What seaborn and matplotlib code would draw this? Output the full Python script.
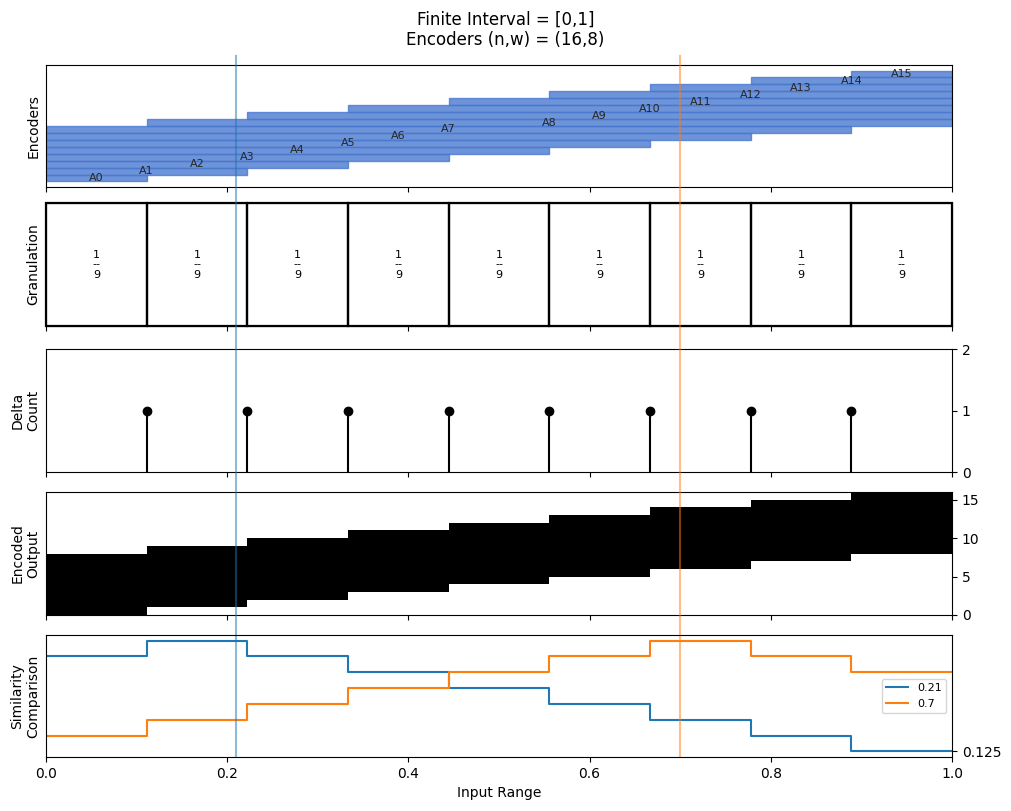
import numpy as np
import pandas as pd
import seaborn as sns
import matplotlib
matplotlib.use('Agg')
import matplotlib.pyplot as plt

# --- data ---
enc_names = ['A%d' % i for i in range(16)]
enc_start = [0, 0, 0, 0, 0, 0, 0, 0, 1/9, 2/9, 3/9, 4/9, 5/9, 6/9, 7/9, 8/9]
enc_end = [1/9, 2/9, 3/9, 4/9, 5/9, 6/9, 7/9, 8/9, 1, 1, 1, 1, 1, 1, 1, 1]

gran_edges = [0, 1/9, 2/9, 3/9, 4/9, 5/9, 6/9, 7/9, 8/9, 1]
gran_labels = ['1\n--\n9'] * 9

delta_x = [1/9, 2/9, 3/9, 4/9, 5/9, 6/9, 7/9, 8/9]
delta_count = [1, 1, 1, 1, 1, 1, 1, 1]

out_low = [0, 1, 2, 3, 4, 5, 6, 7, 8]
out_high = [8, 9, 10, 11, 12, 13, 14, 15, 16]

sim_021 = [0.875, 1.0, 0.875, 0.75, 0.625, 0.5, 0.375, 0.25, 0.125]
sim_07 = [0.25, 0.375, 0.5, 0.625, 0.75, 0.875, 1.0, 0.875, 0.75]
probe_x = [0.21, 0.7]
probe_names = ['0.21', '0.7']

tab = sns.color_palette('tab10')
bar_col = sns.color_palette('muted')[0]

fig = plt.figure(figsize=(10.11, 8.11), dpi=100)
W, H = 1011, 811
rows = [(65, 187), (203, 326), (349, 472), (492, 615), (635, 757)]
axes = []
for top, bot in rows:
    a = fig.add_axes([46 / W, 1 - bot / H, (952 - 46) / W, (bot - top) / H],
                     sharex=axes[0] if axes else None)
    axes.append(a)
ax1, ax2, ax3, ax4, ax5 = axes

# encoders
widths = [e - s for s, e in zip(enc_start, enc_end)]
ax1.barh(range(16), widths, left=enc_start, height=1, color=bar_col, alpha=0.8,
         edgecolor=bar_col, linewidth=1)
for i, name in enumerate(enc_names):
    ax1.text((enc_start[i] + enc_end[i]) / 2, i, name, ha='center', va='center',
             fontsize=8, color='0.15')
ax1.set_yticks([])
ax1.set_ylabel('Encoders')

# granulation
rects = ax2.bar(gran_edges[:-1], [1] * 9, width=np.diff(gran_edges), align='edge',
                bottom=0, fill=False, edgecolor='k', linewidth=1.6)
for r in rects:
    r.set_clip_on(False)
for i, lab in enumerate(gran_labels):
    ax2.text((gran_edges[i] + gran_edges[i + 1]) / 2, 0.5, lab, ha='center',
             va='center', fontsize=8, linespacing=1.0)
ax2.set_ylim(0, 1)
ax2.set_yticks([])
ax2.set_ylabel('Granulation')

# delta count
ax3.stem(delta_x, delta_count, linefmt='k-', markerfmt='ko', basefmt=' ')
ax3.set_ylim(0, 2)
ax3.set_yticks([0, 1, 2])
ax3.yaxis.tick_right()
ax3.set_ylabel('Delta\nCount')

# encoded output
ax4.fill_between(gran_edges, out_low + [out_low[-1]], out_high + [out_high[-1]],
                 step='post', color='k', linewidth=0)
ax4.set_ylim(0, 16)
ax4.set_yticks([0, 5, 10, 15])
ax4.yaxis.tick_right()
ax4.set_ylabel('Encoded\nOutput')

# similarity
sim = pd.DataFrame({'x': gran_edges * 2,
                    'y': sim_021 + [sim_021[-1]] + sim_07 + [sim_07[-1]],
                    'probe': [probe_names[0]] * 10 + [probe_names[1]] * 10})
sns.lineplot(data=sim, x='x', y='y', hue='probe', palette=tab[:2], estimator=None,
             drawstyle='steps-post', ax=ax5, linewidth=1.5)
ax5.legend(loc='center right', fontsize=8)
ax5.set_yticks([0.125])
ax5.yaxis.tick_right()
ax5.set_ylabel('Similarity\nComparison')
ax5.set_xlabel('Input Range')

ax5.set_xlim(0, 1)
for a in axes[:-1]:
    a.tick_params(labelbottom=False)
    a.set_xlabel('')

# probe lines through all panels
for px, c in zip(probe_x, tab[:2]):
    ax5.axvline(px, ymin=0, ymax=(757 - 56) / 122, color=c, alpha=0.5,
                linewidth=1.5, clip_on=False)

fig.suptitle('Finite Interval = [0,1]\nEncoders (n,w) = (16,8)', fontsize=12, y=0.987)
fig.savefig('out.png', dpi=100)
